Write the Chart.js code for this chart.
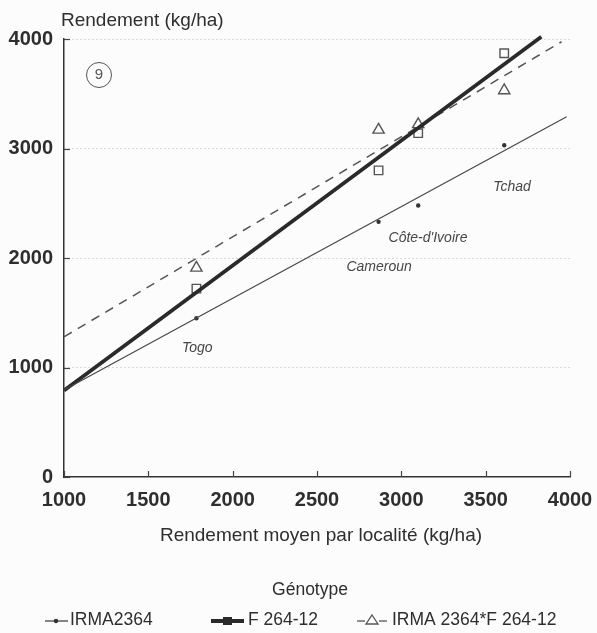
<!DOCTYPE html>
<html lang="fr">
<head>
<meta charset="utf-8">
<title>Rendement par génotype</title>
<script src="https://cdn.jsdelivr.net/npm/chart.js@4.4.0/dist/chart.umd.min.js"></script>
<style>
  html, body { margin: 0; padding: 0; background: #fcfcfc; }
  #wrap { width: 597px; height: 633px; position: relative; }
</style>
</head>
<body>
<div id="wrap"><canvas id="c" width="597" height="633"></canvas></div>
<script>
// Localités et rendement moyen par localité (kg/ha)
const localites = ['Togo', 'Cameroun', "Côte-d'Ivoire", 'Tchad'];
const rendementMoyen = [1785, 2865, 3100, 3610];

// Rendement observé de chaque génotype (kg/ha)
const irma2364 = [1450, 2330, 2480, 3030];
const f26412 = [1720, 2800, 3140, 3870];
const irmaXf = [1910, 3170, 3220, 3530];

// Droites de régression : extrémités (x, y)
const droiteIrmaX = [1000, 3980];
const droiteIrmaY = [795, 3290];
const droiteFX = [1000, 3830];
const droiteFY = [790, 4020];
const droiteCroisX = [1000, 3950];
const droiteCroisY = [1280, 3975];

// Graduations
const xTicks = [1000, 1500, 2000, 2500, 3000, 3500, 4000];
const yTicks = [0, 1000, 2000, 3000, 4000];

const FONT = "'Liberation Sans', Arial, Helvetica, sans-serif";
const INK = '#2e2e2e';

const pts = (xs, ys) => xs.map((x, i) => ({ x: x, y: ys[i] }));

// Étiquettes des localités (coordonnées dans l'espace des données)
const etiquettes = [
  { text: localites[0], x: 1790, y: 1180 },
  { text: localites[1], x: 2868, y: 1918 },
  { text: localites[2], x: 3158, y: 2183 },
  { text: localites[3], x: 3656, y: 2648 }
];

const decor = {
  id: 'decor',
  afterDraw(chart) {
    const { ctx, scales: { x, y } } = chart;
    const area = chart.chartArea;
    ctx.save();
    // graduations tournées vers l'intérieur
    ctx.strokeStyle = '#444';
    ctx.lineWidth = 1.2;
    xTicks.forEach(v => {
      const px = Math.round(x.getPixelForValue(v)) + 0.5;
      ctx.beginPath();
      ctx.moveTo(px, area.bottom);
      ctx.lineTo(px, area.bottom - 6);
      ctx.stroke();
    });
    yTicks.forEach(v => {
      const py = Math.round(y.getPixelForValue(v)) + 0.5;
      ctx.beginPath();
      ctx.moveTo(area.left, py);
      ctx.lineTo(area.left + 6, py);
      ctx.stroke();
    });

    // étiquettes des localités
    ctx.fillStyle = '#474747';
    ctx.font = 'italic 14px ' + FONT;
    ctx.textAlign = 'center';
    ctx.textBaseline = 'middle';
    etiquettes.forEach(e => {
      ctx.fillText(e.text, x.getPixelForValue(e.x), y.getPixelForValue(e.y));
    });

    // numéro de figure cerclé
    ctx.strokeStyle = '#555';
    ctx.lineWidth = 1;
    ctx.beginPath();
    ctx.arc(99, 75, 12.5, 0, Math.PI * 2);
    ctx.stroke();
    ctx.fillStyle = '#555';
    ctx.font = '15px ' + FONT;
    ctx.fillText('9', 99, 75);

    // titres des axes
    ctx.fillStyle = INK;
    ctx.font = '19px ' + FONT;
    ctx.textAlign = 'left';
    ctx.fillText('Rendement (kg/ha)', 61, 21);
    ctx.textAlign = 'center';
    ctx.fillText('Rendement moyen par localité (kg/ha)', 321, 536);

    // légende
    ctx.font = '17.5px ' + FONT;
    ctx.fillText('Génotype', 310, 590);
    const ly = 620;
    ctx.textAlign = 'left';
    ctx.fillText('IRMA2364', 70, ly);
    ctx.fillText('F 264-12', 248, ly);
    ctx.fillText('IRMA 2364*F 264-12', 392, ly);

    ctx.strokeStyle = '#444';
    ctx.lineWidth = 1.3;
    ctx.beginPath(); ctx.moveTo(45, ly + 1); ctx.lineTo(68, ly + 1); ctx.stroke();
    ctx.fillStyle = '#333';
    ctx.beginPath(); ctx.arc(56, ly + 1, 2.2, 0, Math.PI * 2); ctx.fill();

    ctx.strokeStyle = '#2a2a2a';
    ctx.lineWidth = 4;
    ctx.beginPath(); ctx.moveTo(211, ly + 1); ctx.lineTo(244, ly + 1); ctx.stroke();
    ctx.fillStyle = '#2a2a2a';
    ctx.fillRect(223, ly - 3, 9, 8);

    ctx.strokeStyle = '#555';
    ctx.lineWidth = 1.3;
    ctx.beginPath(); ctx.moveTo(357, ly + 1); ctx.lineTo(365, ly + 1); ctx.stroke();
    ctx.beginPath(); ctx.moveTo(379, ly + 1); ctx.lineTo(387, ly + 1); ctx.stroke();
    ctx.beginPath();
    ctx.moveTo(372, ly - 5); ctx.lineTo(378, ly + 4); ctx.lineTo(366, ly + 4); ctx.closePath();
    ctx.fillStyle = '#fcfcfc'; ctx.fill(); ctx.stroke();
    ctx.restore();
  }
};

new Chart(document.getElementById('c'), {
  type: 'scatter',
  data: {
    datasets: [
      { label: 'IRMA2364 (droite)', data: pts(droiteIrmaX, droiteIrmaY), showLine: true,
        borderColor: '#4a4a4a', borderWidth: 1.3, pointRadius: 0, clip: false },
      { label: 'F 264-12 (droite)', data: pts(droiteFX, droiteFY), showLine: true,
        borderColor: '#2a2a2a', borderWidth: 3.8, pointRadius: 0, clip: false },
      { label: 'IRMA 2364*F 264-12 (droite)', data: pts(droiteCroisX, droiteCroisY), showLine: true,
        borderColor: '#555', borderWidth: 1.5, borderDash: [9, 7], pointRadius: 0, clip: false },
      { label: 'IRMA2364', data: pts(rendementMoyen, irma2364),
        pointStyle: 'circle', pointRadius: 2.2, backgroundColor: '#333', borderColor: '#333', borderWidth: 0 },
      { label: 'F 264-12', data: pts(rendementMoyen, f26412),
        pointStyle: 'rect', pointRadius: 6, backgroundColor: 'rgba(252,252,252,0)', borderColor: '#555', borderWidth: 1.4 },
      { label: 'IRMA 2364*F 264-12', data: pts(rendementMoyen, irmaXf),
        pointStyle: 'triangle', pointRadius: 6.5, backgroundColor: 'rgba(252,252,252,0)', borderColor: '#555', borderWidth: 1.4 }
    ]
  },
  options: {
    responsive: false,
    animation: false,
    layout: { padding: { top: 39, right: 27, left: 0, bottom: 0 } },
    plugins: { legend: { display: false }, tooltip: { enabled: false }, title: { display: false } },
    scales: {
      x: {
        type: 'linear', min: 1000, max: 4000,
        afterBuildTicks: s => { s.ticks = xTicks.map(v => ({ value: v })); },
        afterFit: s => { s.height = 156; s.paddingLeft = 0; s.paddingRight = 0; },
        grid: { display: false },
        border: { display: true, color: '#333', width: 1.5 },
        ticks: { color: INK, font: { family: FONT, size: 20, weight: 'bold' }, padding: 3, maxRotation: 0,
                 callback: v => String(v) }
      },
      y: {
        type: 'linear', min: 0, max: 4000,
        afterBuildTicks: s => { s.ticks = yTicks.map(v => ({ value: v })); },
        afterFit: s => { s.width = 64; s.paddingTop = 0; s.paddingBottom = 0; },
        grid: { drawTicks: false, color: c => c.tick && c.tick.value === 0 ? 'rgba(0,0,0,0)' : '#b9b9b9', lineWidth: 1 },
        border: { display: true, color: '#333', width: 1.5, dash: [1, 3] },
        ticks: { color: INK, font: { family: FONT, size: 20, weight: 'bold' }, padding: 11,
                 callback: v => String(v) }
      }
    }
  },
  plugins: [decor]
});
</script>
</body>
</html>
